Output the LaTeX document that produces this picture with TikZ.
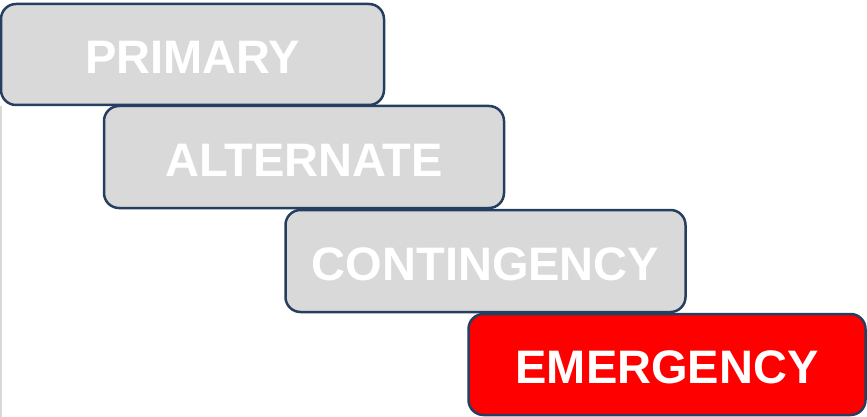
\documentclass[tikz,border=0pt]{standalone}
\usepackage{fontspec}
\setmainfont{Liberation Sans}
\usepackage{tikz}
\colorlet{boxfill}{black!15}
\definecolor{boxedge}{HTML}{243F60}
\definecolor{alertfill}{HTML}{FF0000}
\tikzset{
  stagebox/.style={rectangle, rounded corners=15pt, draw=boxedge, line width=2.5pt,
    fill=boxfill, text=white, minimum width=400pt, minimum height=102pt,
    inner sep=0pt, text height=38pt, text depth=0pt,
    font=\fontsize{47}{50}\selectfont\bfseries},
  activebox/.style={stagebox, fill=alertfill}
}

\begin{document}
\begin{tikzpicture}[x=1pt, y=-1pt]

  % Page frame.
  \useasboundingbox (0,0) rectangle (867,417);

  % Faint left rule.
  \draw[line width=1.5pt, boxfill] (0.75,106) -- (0.75,417);

  % Stages, stepping down to the right.
  \node[stagebox, minimum width=383pt, minimum height=101pt] (primary) at (192.5,54.5) {PRIMARY};
  \node[stagebox] (alternate) at (304,157) {ALTERNATE};
  \node[stagebox] (contingency) at (485.5,261) {CONTINGENCY};
  \node[activebox, minimum width=397pt, minimum height=101pt] (emergency) at (667,364.5) {EMERGENCY};

\end{tikzpicture}
\end{document}
